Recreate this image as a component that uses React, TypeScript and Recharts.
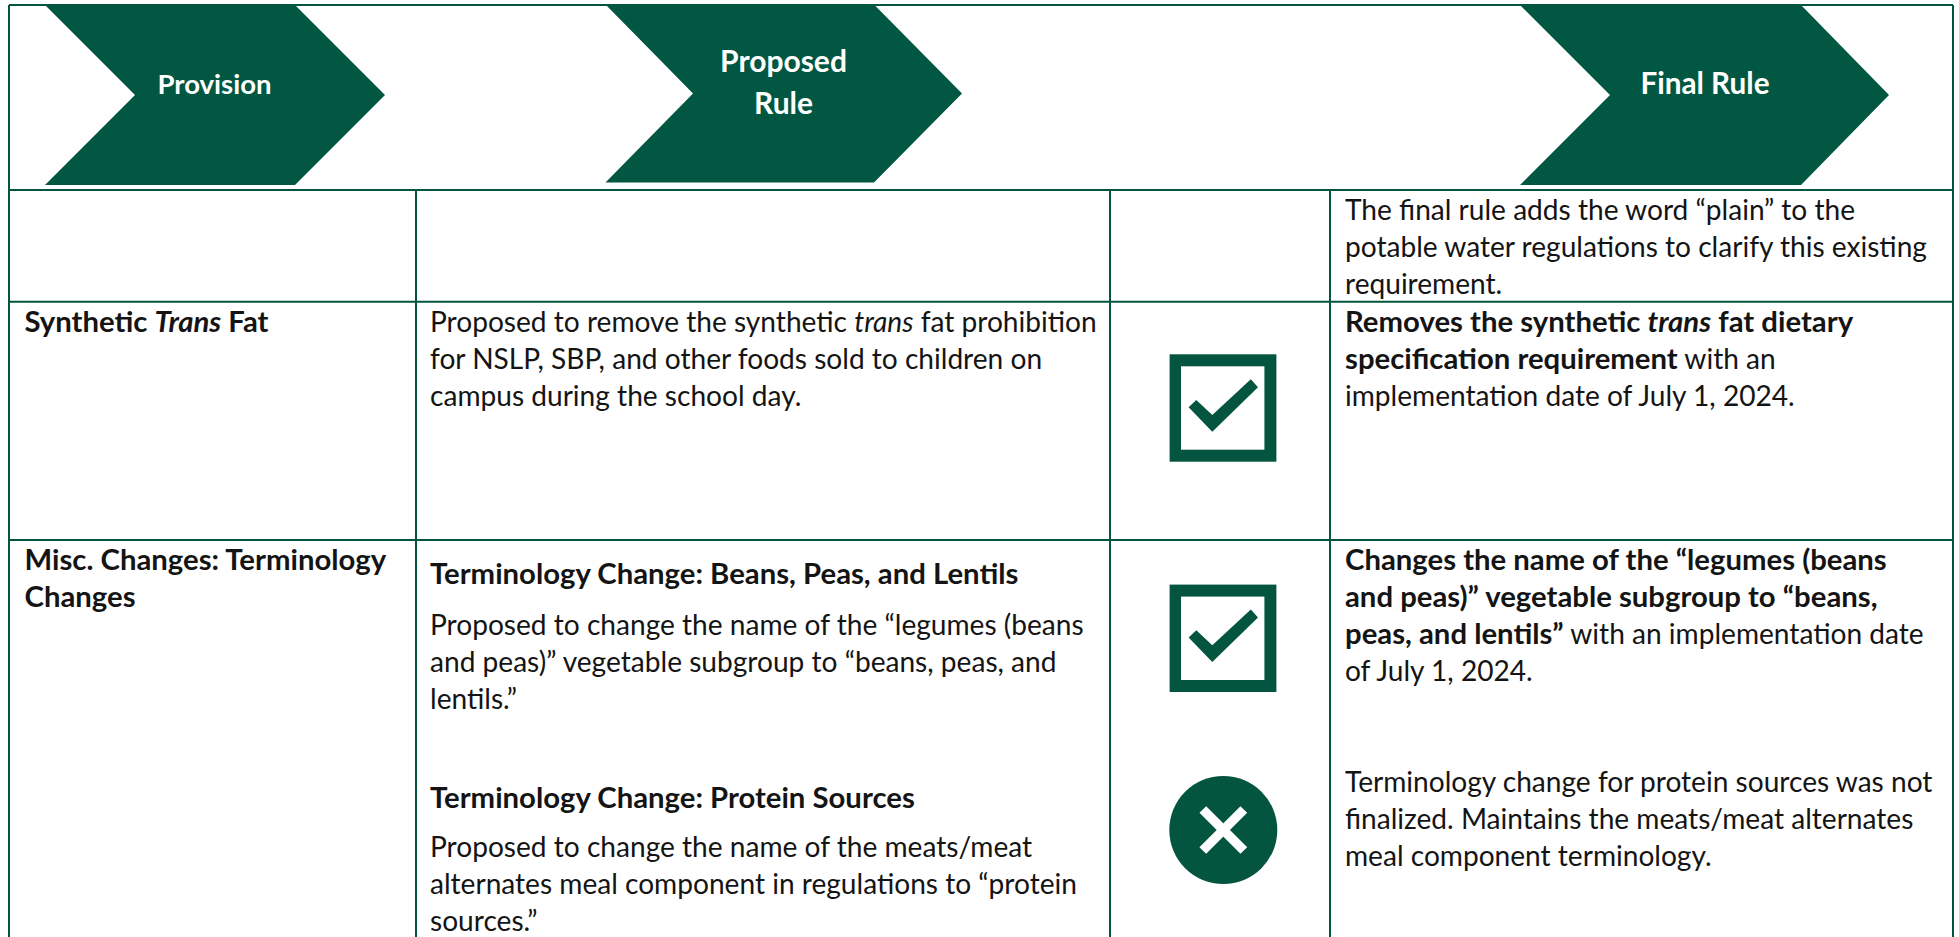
import React from "react";
import { ScatterChart, Scatter, XAxis, YAxis, ReferenceLine } from "recharts";

const WIDTH = 1959;
const HEIGHT = 937;
const GREEN = "#04553f";
const FONT = "Lato, 'Open Sans', sans-serif";

type Run = [string, string?];

const headerLabels = [["Provision"], ["Proposed", "Rule"], ["Final Rule"]];
const headerCentreX = [214.5, 783.5, 1705];
const headerBaselineY = [[94], [72, 114], [94]];
const headerFontSize = [27.5, 30, 29.7];
const chevronTipX = [385, 962, 1889];
const chevronTipY = [95, 93.5, 95];
const chevronBodyWidth = [250, 269, 279];
const chevronHalfHeight = [90, 89, 90];
const chevronRightLean = [90, 88, 88];
const chevronLeftLean = [90, 87.5, 90];

const finalPlainLines: Run[][] = [
  [["The final rule adds the word “plain” to the"]],
  [["potable water regulations to clarify this existing"]],
  [["requirement."]],
];
const transProvision: Run[][] = [[["Synthetic ", "b"], ["Trans", "bi"], [" Fat", "b"]]];
const transProposed: Run[][] = [
  [["Proposed to remove the synthetic "], ["trans", "i"], [" fat prohibition"]],
  [["for NSLP, SBP, and other foods sold to children on"]],
  [["campus during the school day."]],
];
const transFinal: Run[][] = [
  [["Removes the synthetic ", "b"], ["trans", "bi"], [" fat dietary", "b"]],
  [["specification requirement", "b"], [" with an"]],
  [["implementation date of July 1, 2024."]],
];
const miscProvision: Run[][] = [[["Misc. Changes: Terminology", "b"]], [["Changes", "b"]]];
const beansHeading: Run[][] = [[["Terminology Change: Beans, Peas, and Lentils", "b"]]];
const beansProposed: Run[][] = [
  [["Proposed to change the name of the “legumes (beans"]],
  [["and peas)” vegetable subgroup to “beans, peas, and"]],
  [["lentils.”"]],
];
const proteinHeading: Run[][] = [[["Terminology Change: Protein Sources", "b"]]];
const proteinProposed: Run[][] = [
  [["Proposed to change the name of the meats/meat"]],
  [["alternates meal component in regulations to “protein"]],
  [["sources.”"]],
];
const beansFinal: Run[][] = [
  [["Changes the name of the “legumes (beans", "b"]],
  [["and peas)” vegetable subgroup to “beans,", "b"]],
  [["peas, and lentils”", "b"], [" with an implementation date"]],
  [["of July 1, 2024."]],
];
const proteinFinal: Run[][] = [
  [["Terminology change for protein sources was not"]],
  [["finalized. Maintains the meats/meat alternates"]],
  [["meal component terminology."]],
];

const blocks = [finalPlainLines, transProvision, transProposed, transFinal, miscProvision, beansHeading, beansProposed, proteinHeading, proteinProposed, beansFinal, proteinFinal];
const blockX = [1345, 24.5, 430, 1345, 24.5, 430, 430, 430, 430, 1345, 1345];
const blockFirstBaseline = [220, 332, 332, 332, 569.5, 583.5, 634.5, 807.5, 856.5, 569.5, 792];

const gridY = [5, 190, 301.7, 540];
const gridX = [9, 416, 1110, 1330, 1953];
const gridTop = [5, 190, 190, 190, 5];

const iconKinds = ["check", "check", "cross"];
const iconX = [1223, 1223, 1223.3];
const iconY = [408, 638.3, 830];

const chevronData = headerLabels.map((labels, i) => ({
  x: chevronTipX[i], y: chevronTipY[i], labels, labelX: headerCentreX[i] - chevronTipX[i],
  baselines: headerBaselineY[i].map((b) => b - chevronTipY[i]), fontSize: headerFontSize[i],
  body: chevronBodyWidth[i], half: chevronHalfHeight[i], rightLean: chevronRightLean[i], leftLean: chevronLeftLean[i],
}));
const textData = blocks.map((lines, i) => ({ x: blockX[i], y: blockFirstBaseline[i], lines }));
const iconData = iconKinds.map((kind, i) => ({ x: iconX[i], y: iconY[i], kind }));

function Chevron(props: any) {
  const { cx, cy, payload: p } = props;
  const pts = [
    [cx - p.rightLean, cy - p.half],
    [cx, cy],
    [cx - p.rightLean, cy + p.half],
    [cx - p.leftLean - p.body, cy + p.half],
    [cx - p.body, cy],
    [cx - p.leftLean - p.body, cy - p.half],
  ];
  return (
    <g>
      <polygon points={pts.map((q) => q.join(",")).join(" ")} fill="#015742" />
      {p.labels.map((l: string, i: number) => (
        <text key={l} x={cx + p.labelX} y={cy + p.baselines[i]} textAnchor="middle" fill="#fff"
          fontFamily={FONT} fontWeight={700} fontSize={p.fontSize}>{l}</text>
      ))}
    </g>
  );
}

function TextBlock(props: any) {
  const { cx, cy, payload } = props;
  return (
    <g>
      {payload.lines.map((runs: Run[], i: number) => (
        <text key={i} x={cx} y={cy + i * 37.2} fill="#141414" fontFamily={FONT} style={{ whiteSpace: "pre" }}>
          {runs.map(([t, s], j) => {
            const bold = !!s && s.includes("b");
            return (
              <tspan key={j} fontSize={bold ? 29.3 : 28.1} fontWeight={bold ? 700 : 400} fontStyle={s && s.includes("i") ? "italic" : "normal"}>{t}</tspan>
            );
          })}
        </text>
      ))}
    </g>
  );
}

function Icon(props: any) {
  const { cx, cy, payload } = props;
  if (payload.kind === "cross") {
    const d = 20.5;
    return (
      <g>
        <circle cx={cx} cy={cy} r={54} fill={GREEN} />
        <line x1={cx - d} y1={cy - d} x2={cx + d} y2={cy + d} stroke="#fff" strokeWidth={9.5} />
        <line x1={cx - d} y1={cy + d} x2={cx + d} y2={cy - d} stroke="#fff" strokeWidth={9.5} />
      </g>
    );
  }
  const tick = [[27.8, -28.7], [35, -20.7], [-10.7, 23.7], [-34.4, -0.7], [-26.7, -8], [-10.7, 7]];
  return (
    <g>
      <rect x={cx - 53.4} y={cy - 53.7} width={106.8} height={107.4} fill={GREEN} />
      <rect x={cx - 42} y={cy - 41.7} width={83.4} height={83.4} fill="#fff" />
      <polygon points={tick.map(([a, b]) => `${cx + a},${cy + b}`).join(" ")} fill={GREEN} />
    </g>
  );
}

export default function App() {
  return (
    <div style={{ position: "absolute", left: 0, top: 0, width: WIDTH, height: HEIGHT, overflow: "hidden", background: "#fff" }}>
      <ScatterChart width={WIDTH} height={HEIGHT} margin={{ top: 0, right: 0, bottom: 0, left: 0 }}>
        <XAxis type="number" dataKey="x" domain={[0, WIDTH]} hide allowDataOverflow />
        <YAxis type="number" dataKey="y" domain={[0, HEIGHT]} reversed hide allowDataOverflow />
        {gridY.map((y) => (
          <ReferenceLine key={y} segment={[{ x: gridX[0], y }, { x: gridX[4], y }]} stroke={GREEN} strokeWidth={2} ifOverflow="visible" />
        ))}
        {gridX.map((x, i) => (
          <ReferenceLine key={x} segment={[{ x, y: gridTop[i] }, { x, y: HEIGHT }]} stroke={GREEN} strokeWidth={2} ifOverflow="visible" />
        ))}
        <Scatter data={chevronData} shape={<Chevron />} isAnimationActive={false} />
        <Scatter data={textData} shape={<TextBlock />} isAnimationActive={false} />
        <Scatter data={iconData} shape={<Icon />} isAnimationActive={false} />
      </ScatterChart>
    </div>
  );
}
